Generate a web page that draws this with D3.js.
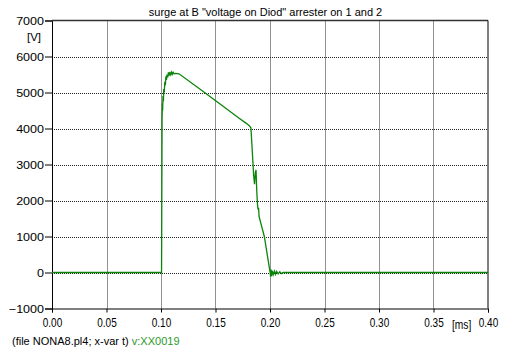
<!DOCTYPE html>
<html>
<head>
<meta charset="utf-8">
<script src="https://cdn.jsdelivr.net/npm/d3@7"></script>
<style>
  body { margin: 0; background: #fff; }
  text { font-family: "Liberation Sans", Arial, sans-serif; }
</style>
</head>
<body>
<svg id="chart" width="507" height="351"></svg>
<script>
// time in ms, voltage in V
const timeMs = [0, 0.1005, 0.1008, 0.1010, 0.1013, 0.1015, 0.1018, 0.1022, 0.1025, 0.1030,
  0.1035, 0.1040, 0.1045, 0.1050, 0.1055, 0.1062, 0.1068, 0.1075, 0.1082, 0.1090,
  0.1098, 0.1105, 0.1112, 0.1120, 0.1130, 0.1165, 0.1400, 0.1720, 0.1780, 0.1810,
  0.1825, 0.1835, 0.1850, 0.1858, 0.1866, 0.1872, 0.1878, 0.1885, 0.1890, 0.1895,
  0.1900, 0.1948, 0.1997, 0.2002, 0.2005, 0.2010, 0.2015, 0.2020, 0.2030, 0.2040,
  0.2050, 0.2060, 0.2075, 0.2090, 0.2105, 0.2120, 0.4000];
const voltage = [0, 0, 2500, 4300, 4700, 4500, 4900, 4750, 5100, 5000,
  5300, 5200, 5450, 5350, 5500, 5420, 5560, 5470, 5570, 5490,
  5570, 5510, 5560, 5520, 5530, 5520, 5000, 4280, 4150, 4080,
  4020, 3500, 2700, 2450, 2780, 2850, 2300, 1900, 1750, 1800,
  1550, 1000, 75, 0, -120, 80, -100, 50, -60, 40,
  -50, 30, -40, 20, -30, 0, 0];

const xTicks = [0, 0.05, 0.10, 0.15, 0.20, 0.25, 0.30, 0.35, 0.40];
const yTicks = [-1000, 0, 1000, 2000, 3000, 4000, 5000, 6000, 7000];

const title = 'surge at B "voltage on Diod" arrester on 1 and 2';

const svg = d3.select('#chart');
const margin = {top: 20.5, right: 19, bottom: 42.5, left: 52};
const width = 507, height = 351;

const x = d3.scaleLinear().domain([0, 0.4]).range([margin.left, width - margin.right]);
const y = d3.scaleLinear().domain([-1000, 7000]).range([height - margin.bottom, margin.top]);

svg.append('rect').attr('width', width).attr('height', height).attr('fill', '#fff');

//dotted grid
svg.append('g')
  .selectAll('line')
  .data(xTicks.slice(1, -1))
  .join('line')
    .attr('x1', d => Math.round(x(d)) + 0.5)
    .attr('x2', d => Math.round(x(d)) + 0.5)
    .attr('y1', y(7000))
    .attr('y2', y(-1000))
    .attr('stroke', '#222')
    .attr('stroke-dasharray', '1,1');

svg.append('g')
  .selectAll('line')
  .data(yTicks.slice(1, -1))
  .join('line')
    .attr('x1', x(0))
    .attr('x2', x(0.4))
    .attr('y1', d => Math.round(y(d)) + 0.5)
    .attr('y2', d => Math.round(y(d)) + 0.5)
    .attr('stroke', '#222')
    .attr('stroke-dasharray', '1,1');

//axes
const xAxis = d3.axisBottom(x).tickValues(xTicks).tickSize(4).tickFormat(d3.format('.2f'));
const yAxis = d3.axisLeft(y).tickValues(yTicks).tickSize(7).tickFormat(d3.format('d'));

const gx = svg.append('g')
  .attr('transform', `translate(0,${y(-1000)})`)
  .call(xAxis);
gx.select('.domain').attr('stroke', '#000');
gx.selectAll('.tick text')
  .attr('font-size', 12.5)
  .attr('font-family', '"Liberation Sans", Arial, sans-serif')
  .attr('fill', '#000')
  .attr('y', 0)
  .attr('dy', 0)
  .attr('transform', 'translate(0,18.5) scale(0.8,1)');

const gy = svg.append('g')
  .attr('transform', `translate(${x(0)},0)`)
  .call(yAxis);
gy.select('.domain').attr('stroke', '#000');
gy.selectAll('.tick text')
  .attr('font-size', 11)
  .attr('font-family', '"Liberation Sans", Arial, sans-serif')
  .attr('fill', '#000')
  .attr('x', 0)
  .attr('dy', 0)
  .attr('text-anchor', 'end')
  .attr('transform', 'translate(-8,4) scale(1.14,1)');

//top and right border
svg.append('line')
  .attr('x1', x(0)).attr('x2', x(0.4))
  .attr('y1', y(7000)).attr('y2', y(7000))
  .attr('stroke', '#333').attr('stroke-width', 1.3);
svg.append('line')
  .attr('x1', x(0.4)).attr('x2', x(0.4))
  .attr('y1', y(7000)).attr('y2', y(-1000))
  .attr('stroke', '#000');

//voltage curve
const points = timeMs.map((t, i) => [t, voltage[i]]);
svg.append('path')
  .datum(points)
  .attr('fill', 'none')
  .attr('stroke', '#0a850a')
  .attr('stroke-width', 1.3)
  .attr('d', d3.line().x(d => x(d[0])).y(d => y(d[1])));

//labels
svg.append('text')
  .attr('x', 265.5).attr('y', 16)
  .attr('text-anchor', 'middle')
  .attr('font-size', 11)
  .text(title);

svg.append('text')
  .attr('x', 41).attr('y', 41)
  .attr('text-anchor', 'end')
  .attr('font-size', 11.5)
  .text('[V]');

svg.append('text')
  .attr('x', 452).attr('y', 329)
  .attr('font-size', 12)
  .attr('transform', 'translate(452,0) scale(0.85,1) translate(-452,0)')
  .text('[ms]');

const foot = svg.append('text')
  .attr('x', 12).attr('y', 344.5)
  .attr('font-size', 11);
foot.append('tspan').text('(file NONA8.pl4; x-var t) ');
foot.append('tspan').attr('fill', '#2a9a2a').text('v:XX0019');
</script>
</body>
</html>
